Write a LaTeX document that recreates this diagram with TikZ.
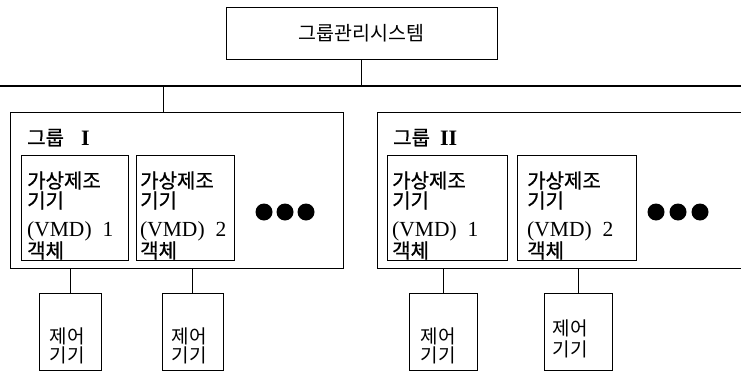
\documentclass[tikz,border=0pt]{standalone}
\usepackage{fontspec}
\setmainfont{Liberation Serif}
\newfontfamily\kr{Noto Sans CJK KR}
\newfontfamily\krb[FakeBold=0.8]{Noto Sans CJK KR}
\tikzset{
  box/.style={draw, line width=0.9pt, inner sep=0pt},
  ln/.style={line width=0.9pt},
  bus/.style={line width=1.3pt},
  ktext/.style={inner sep=0pt, font=\krb\fontsize{20}{24}\selectfont},
  etext/.style={inner sep=0pt, font=\fontsize{21.5}{26}\selectfont},
  ctext/.style={inner sep=0pt, font=\kr\fontsize{19}{22}\selectfont},
  gtext/.style={inner sep=0pt, font=\krb\fontsize{20}{24}\selectfont},
  dot/.style={circle, fill, minimum size=17pt, inner sep=0pt},
}
\begin{document}
\begin{tikzpicture}[x=1pt,y=-1pt]
\useasboundingbox (0,0) rectangle (741,372);
% top box
\node[box, minimum width=271pt, minimum height=52pt, font=\kr\fontsize{19.5}{22}\selectfont] (top) at (361.5,33) {그룹관리시스템};
% bus
\coordinate (busL) at (0,86);
\coordinate (busR) at (745,86);
\draw[bus] (busL) -- (busR);
\draw[ln] (top.south) -- (top.south |- busL);
% groups
\node[box, minimum width=333pt, minimum height=156pt] (g1) at (176.5,190) {};
\node[box, minimum width=368pt, minimum height=156pt] (g2) at (561,190) {};
\coordinate (c1) at (163,86);
\draw[ln] (c1) -- (c1 |- g1.north);
% group labels
\node[gtext, anchor=base west] (g1l) at (27,145) {그룹\hspace{17pt}{\fontspec{Liberation Serif}\bfseries\fontsize{22}{24}\selectfont I}};
\node[gtext, anchor=base west] (g2l) at (393,145) {그룹\hspace{10pt}{\fontspec{Liberation Serif}\bfseries\fontsize{22}{24}\selectfont II}};
% inner boxes
\node[box, minimum width=107pt, minimum height=105pt] (va) at (74.5,207.5) {};
\node[box, minimum width=98pt, minimum height=105pt] (vb) at (185,207.5) {};
\node[box, minimum width=120pt, minimum height=105pt] (vc) at (447,207.5) {};
\node[box, minimum width=119pt, minimum height=105pt] (vd) at (576.5,207.5) {};
\foreach \n/\x/\num in {a/27/1, b/140/2, c/392/1, d/527/2}{
  \node[ktext, anchor=base west] (t\n1) at (\x,188) {가상제조};
  \node[ktext, anchor=base west] (t\n2) at (\x,208) {기기};
  \node[etext, anchor=base west] (t\n3) at (\x,236) {(VMD)\hspace{11pt}\num};
  \node[ktext, anchor=base west] (t\n4) at (\x,258) {객체};
}
% dots
\node[dot] (d1) at (264,212) {};
\node[dot] (d2) at (285,212) {};
\node[dot] (d3) at (306,212) {};
\node[dot] (d4) at (656,212) {};
\node[dot] (d5) at (678,212) {};
\node[dot] (d6) at (700,212) {};
% control boxes
\node[box, minimum width=62pt, minimum height=77pt] (k1) at (70,331.5) {};
\node[box, minimum width=61pt, minimum height=77pt] (k2) at (192.5,331.5) {};
\node[box, minimum width=68pt, minimum height=77pt] (k3) at (443,331.5) {};
\node[box, minimum width=68pt, minimum height=77pt] (k4) at (578,331.5) {};
\foreach \k in {k1,k2,k3,k4}{
  \draw[ln] (\k.north) -- (\k.north |- g1.south);
}
\node[ctext, anchor=base] (k1a) at (67,343) {제어};
\node[ctext, anchor=base] (k1b) at (67,362) {기기};
\node[ctext, anchor=base] (k2a) at (189,343) {제어};
\node[ctext, anchor=base] (k2b) at (189,362) {기기};
\node[ctext, anchor=base] (k3a) at (438,343) {제어};
\node[ctext, anchor=base] (k3b) at (438,362) {기기};
\node[ctext, anchor=base] (k4a) at (570,335) {제어};
\node[ctext, anchor=base] (k4b) at (570,356) {기기};
\end{tikzpicture}
\end{document}
